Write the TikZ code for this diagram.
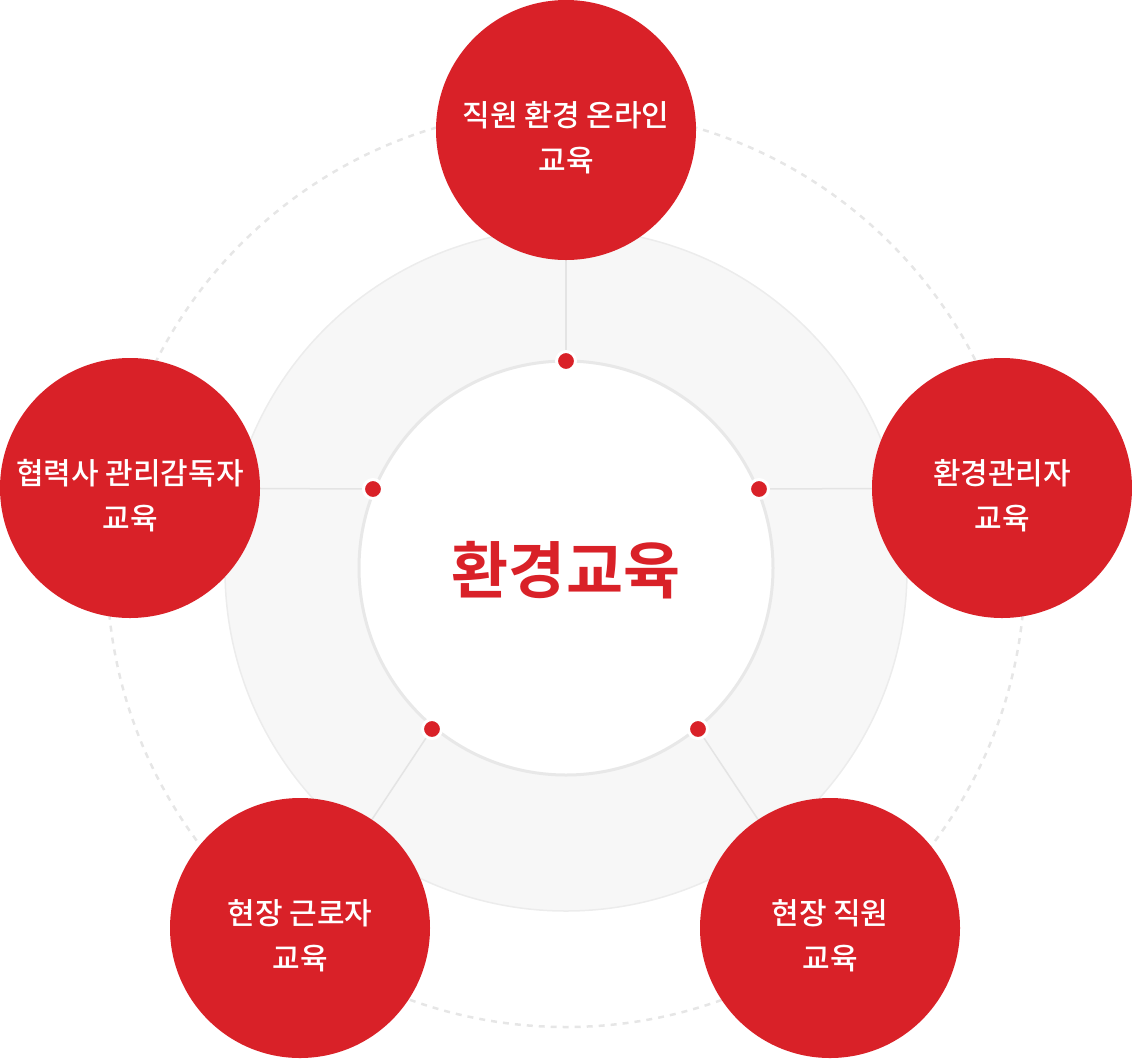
\documentclass[tikz,border=0pt]{standalone}
\usepackage{fontspec}
\setmainfont{Noto Sans CJK KR}
\newfontfamily\krmed{Noto Sans CJK KR Medium}
\newfontfamily\krbold{Noto Sans CJK KR Bold}
\definecolor{myred}{RGB}{217,33,40}
\definecolor{discfill}{RGB}{247,247,247}
\definecolor{discline}{RGB}{236,236,236}
\definecolor{innerline}{RGB}{232,232,232}
\definecolor{dashgrey}{RGB}{230,230,230}
\definecolor{linegrey}{RGB}{228,228,228}
\pgfdeclarelayer{back}
\pgfdeclarelayer{mid}
\pgfsetlayers{back,mid,main}
\begin{document}
\begin{tikzpicture}[x=1pt,y=-1pt,
  redc/.style={circle,fill=myred,minimum size=260pt,inner sep=0pt},
  labt/.style={text=white,font=\krmed\fontsize{30}{45}\selectfont,align=center,inner sep=0pt,yshift=-8pt},
  dotn/.style={circle,fill=myred,draw=white,line width=3pt,minimum size=19pt,inner sep=0pt},
  conn/.style={draw=linegrey,line width=1.5pt},
  dashc/.style={circle,draw=dashgrey,line width=2.5pt,dash pattern=on 6pt off 6pt,minimum size=918pt,inner sep=0pt},
  discc/.style={circle,fill=discfill,draw=discline,line width=1.5pt,minimum size=682pt,inner sep=0pt},
  innerc/.style={circle,fill=white,draw=innerline,line width=3pt,minimum size=414pt,inner sep=0pt},
  centert/.style={text=myred,font=\krbold\fontsize{62}{64}\selectfont,inner sep=0pt}
]
\useasboundingbox (0,0) rectangle (1132,1058);
\begin{pgfonlayer}{back}
  \node[dashc] (outer) at (566,568) {};
  \node[discc] (disc) at (566,570) {};
  \node[innerc] (inner) at (566,568) {};
\end{pgfonlayer}
% red circles
\node[redc] (c1) at (566,130) {};
\node[redc] (c2) at (1002,488) {};
\node[redc] (c3) at (830,928) {};
\node[redc] (c4) at (300,928) {};
\node[redc] (c5) at (130,488) {};
\node[labt] (t1) at (c1.center) {직원 환경 온라인\\교육};
\node[labt] (t2) at (c2.center) {환경관리자\\교육};
\node[labt] (t3) at (c3.center) {현장 직원\\교육};
\node[labt] (t4) at (c4.center) {현장 근로자\\교육};
\node[labt] (t5) at (c5.center) {협력사 관리감독자\\교육};
% dots
\node[dotn] (d1) at (566,361) {};
\node[dotn] (d2) at (759,489) {};
\node[dotn] (d3) at (698,729) {};
\node[dotn] (d4) at (432,729) {};
\node[dotn] (d5) at (373,489) {};
\begin{pgfonlayer}{mid}
  \draw[conn] (d1.center) -- (c1.center);
  \draw[conn] (d2.center) -- (c2.center);
  \draw[conn] (d3.center) -- (c3.center);
  \draw[conn] (d4.center) -- (c4.center);
  \draw[conn] (d5.center) -- (c5.center);
\end{pgfonlayer}
\node[centert] (ct) at (566,570) {환경교육};
\end{tikzpicture}
\end{document}
